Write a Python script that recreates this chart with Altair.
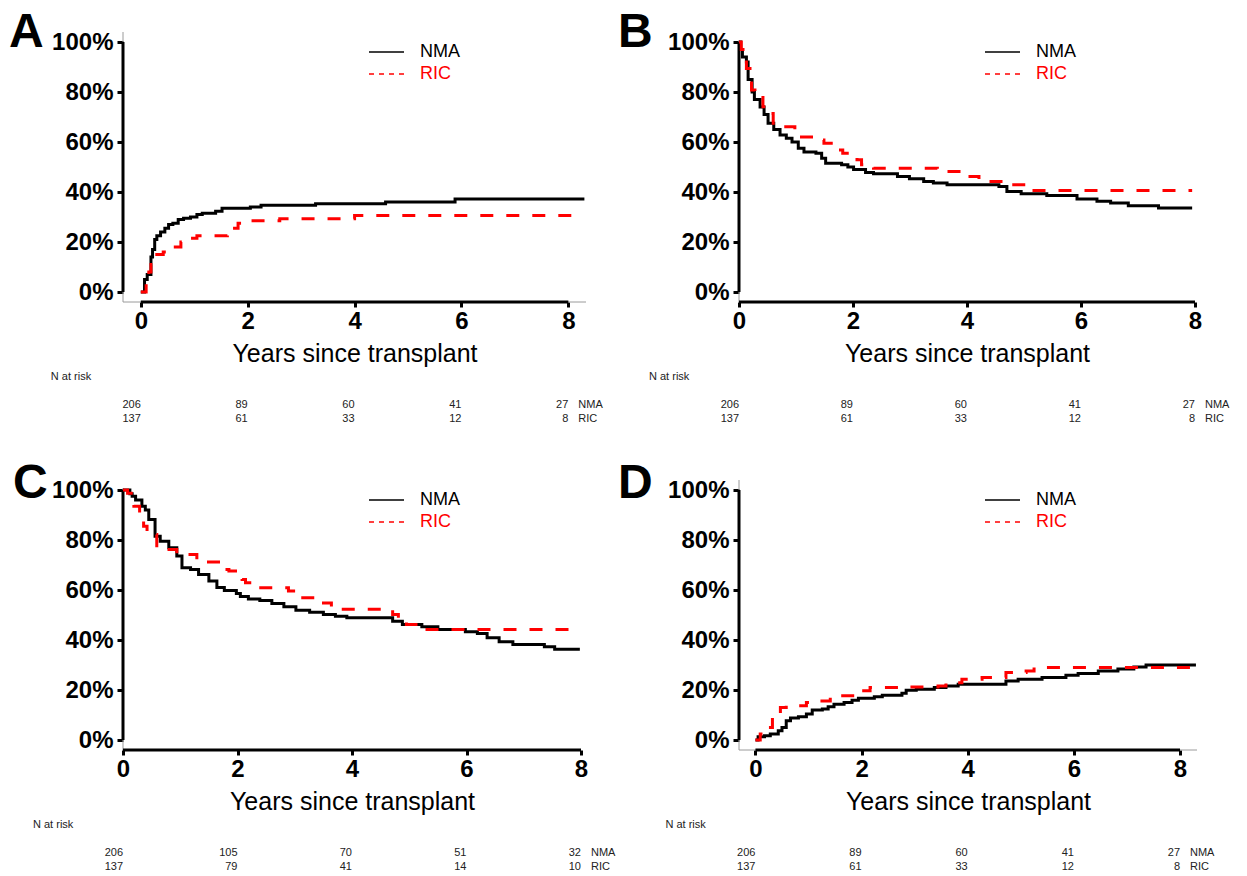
import altair as alt
import pandas as pd

FONT = "Liberation Sans"

# ---------------- data ----------------
# Panel A
a_nma_t = [0, 0.07, 0.12, 0.19, 0.22, 0.26, 0.30, 0.37, 0.45, 0.52, 0.60, 0.70, 0.80, 0.93, 1.05, 1.15, 1.40, 1.52, 2.05, 2.25, 3.27, 4.58, 5.88, 8.30]
a_nma_v = [0, 5, 7, 14, 17, 21, 22.5, 24, 25.5, 27, 27.5, 29, 29.5, 30, 31, 31.5, 32.3, 33.5, 34, 34.7, 35.3, 36, 37.2, 37.2]
a_ric_t = [0, 0.10, 0.15, 0.19, 0.26, 0.42, 0.50, 0.75, 0.86, 1.05, 1.62, 1.72, 1.82, 2.0, 2.6, 4.0, 8.2]
a_ric_v = [0, 4, 8, 11, 15, 16, 18, 20, 21.5, 22.5, 24, 25.5, 27.5, 28.5, 29.3, 30.6, 30.6]

# Panel B
b_nma_t = [0, 0.03, 0.06, 0.13, 0.16, 0.23, 0.27, 0.37, 0.44, 0.51, 0.61, 0.72, 0.83, 0.93, 1.04, 1.14, 1.35, 1.45, 1.52, 1.80, 1.91, 2.01, 2.22, 2.36, 2.78, 2.99, 3.24, 3.41, 3.65, 4.56, 4.70, 4.95, 5.40, 5.93, 6.28, 6.52, 6.83, 7.36, 7.95]
b_nma_v = [100, 97, 94, 92, 85, 80, 77, 74, 71, 67.5, 65, 62.8, 61.5, 60, 57.5, 56, 55.5, 53.5, 51.5, 50.9, 50, 49, 47.8, 47.3, 46.2, 45.3, 44.2, 43.6, 42.9, 42.2, 40.2, 39.3, 38.6, 37.2, 36.3, 35.6, 34.5, 33.6, 33.6]
b_ric_t = [0, 0.04, 0.10, 0.13, 0.22, 0.28, 0.42, 0.48, 0.60, 0.78, 0.98, 1.07, 1.39, 1.49, 1.74, 1.82, 2.07, 2.15, 2.36, 3.48, 3.86, 4.21, 4.67, 5.09, 7.95]
b_ric_v = [100, 97, 93.3, 89.4, 80.8, 78.8, 74.1, 71.4, 67.5, 66.1, 63.5, 62, 60.8, 59.5, 56.8, 55.5, 52.9, 50.9, 49.5, 48.2, 46.2, 44.2, 42.9, 40.6, 40.6]

# Panel C
c_nma_t = [0, 0.12, 0.16, 0.22, 0.33, 0.39, 0.45, 0.56, 0.65, 0.80, 0.94, 1.03, 1.18, 1.32, 1.50, 1.64, 1.77, 1.98, 2.05, 2.19, 2.39, 2.60, 2.81, 3.02, 3.26, 3.50, 3.71, 3.91, 4.71, 4.88, 5.22, 5.50, 5.98, 6.19, 6.36, 6.57, 6.81, 7.36, 7.54, 7.98]
c_nma_v = [100, 98.5, 97.5, 96, 93.5, 92, 88.2, 81.5, 79.5, 76.9, 73.6, 68.9, 68.2, 66.2, 63.6, 61, 59.8, 58.6, 57.4, 56.4, 55.8, 54.6, 53.3, 51.9, 51.1, 50.2, 49.5, 48.9, 47.5, 46.2, 45.3, 44.2, 43.3, 42.6, 40.9, 39.3, 38.2, 37.3, 36.3, 36.3]
c_ric_t = [0, 0.08, 0.19, 0.29, 0.36, 0.42, 0.59, 0.68, 0.94, 1.29, 1.73, 1.85, 2.08, 2.14, 2.37, 2.89, 2.98, 3.43, 3.64, 3.78, 4.71, 4.81, 4.95, 5.22, 7.98]
c_ric_v = [100, 98.7, 93.5, 89, 85.5, 82.2, 76.9, 76.2, 74.2, 71.2, 68.2, 67.6, 64.2, 62.9, 60.9, 59.6, 56.9, 54.8, 52.9, 52.3, 50.2, 47.5, 46.2, 44.2, 44.2]

# Panel D
d_nma_t = [0, 0.05, 0.17, 0.28, 0.43, 0.50, 0.58, 0.66, 0.81, 0.96, 1.07, 1.26, 1.37, 1.48, 1.67, 1.82, 1.94, 2.24, 2.39, 2.76, 2.84, 3.03, 3.37, 3.59, 3.82, 4.72, 4.95, 5.40, 5.85, 6.08, 6.46, 6.83, 7.13, 7.36, 8.30]
d_nma_v = [0, 1.3, 1.7, 2.4, 3.7, 5, 7.7, 8.8, 9.3, 10.4, 12, 12.4, 13.3, 14.3, 15, 15.9, 16.7, 17.3, 17.9, 18.7, 19.9, 20.3, 21, 21.6, 22.3, 23.6, 24.3, 25, 25.9, 26.6, 27.6, 28.4, 29.2, 30, 30]
d_ric_t = [0, 0.09, 0.20, 0.32, 0.47, 0.58, 0.96, 1.18, 1.41, 1.56, 1.94, 2.16, 2.92, 3.44, 3.59, 3.89, 4.27, 4.72, 5.10, 5.25, 8.30]
d_ric_v = [0, 2.4, 5, 9, 13, 13.7, 15, 15.6, 17, 17.7, 19.7, 21, 21.2, 21.6, 22.9, 24.3, 25, 27, 27.6, 29, 29]

# Numbers at risk
risk_times = [0, 2, 4, 6, 8]
risk_nma_abd = [206, 89, 60, 41, 27]
risk_ric_abd = [137, 61, 33, 12, 8]
risk_nma_c = [206, 105, 70, 51, 32]
risk_ric_c = [137, 79, 41, 14, 10]

groups = ["NMA", "RIC"]
x_ticks = [0, 2, 4, 6, 8]
y_ticks = [0, 0.2, 0.4, 0.6, 0.8, 1.0]
YMIN, YMAX = -0.04, 1.04


def panel(letter, nma_t, nma_v, ric_t, ric_v, r_nma, r_ric, xdom, width, frame_top, letter_x, letter_y):
    xs = alt.Scale(domain=xdom, nice=False, zero=False)
    ys = alt.Scale(domain=[YMIN, YMAX], nice=False, zero=False)
    xax = alt.Axis(values=x_ticks, format="d", title="Years since transplant", domain=False, grid=False,
                   tickSize=5, tickWidth=3, tickColor="black", labelFontSize=24, labelFontWeight="bold",
                   labelColor="black", labelPadding=2, labelFlush=False, labelOverlap=False,
                   titleFontSize=25, titleFontWeight="normal", titleColor="black", titlePadding=8)
    yax = alt.Axis(values=y_ticks, format=".0%", title=None, domain=False, grid=False,
                   tickSize=6, tickWidth=3, tickColor="black", labelFontSize=24, labelFontWeight="bold",
                   labelColor="black", labelPadding=4, labelFlush=False, labelOverlap=False)
    X = lambda: alt.X("t:Q", scale=xs, axis=xax)
    Y = lambda: alt.Y("v:Q", scale=ys, axis=yax)

    nma = pd.DataFrame({"t": nma_t, "v": [v / 100 for v in nma_v]})
    ric = pd.DataFrame({"t": ric_t, "v": [v / 100 for v in ric_v]})

    frame_h = pd.DataFrame({"t": [xdom[0]], "t2": [xdom[1]], "v": [YMIN]})
    frame_v = pd.DataFrame({"t": [xdom[0]], "v": [YMIN], "v2": [frame_top]})
    axis_h = pd.DataFrame({"t": [x_ticks[0]], "t2": [x_ticks[-1]], "v": [YMIN]})
    axis_v = pd.DataFrame({"t": [xdom[0]], "v": [y_ticks[0]], "v2": [y_ticks[-1]]})

    layers = []
    layers.append(alt.Chart(frame_h).mark_rule(color="#9a9a9a", strokeWidth=1).encode(x=X(), x2="t2:Q", y=Y()))
    layers.append(alt.Chart(frame_v).mark_rule(color="#9a9a9a", strokeWidth=1).encode(x=X(), y=Y(), y2="v2:Q"))
    layers.append(alt.Chart(axis_h).mark_rule(color="black", strokeWidth=3).encode(x=X(), x2="t2:Q", y=Y()))
    layers.append(alt.Chart(axis_v).mark_rule(color="black", strokeWidth=3).encode(x=X(), y=Y(), y2="v2:Q"))
    layers.append(alt.Chart(nma).mark_line(interpolate="step-after", color="black", strokeWidth=3)
                  .encode(x=X(), y=Y()))
    layers.append(alt.Chart(ric).mark_line(interpolate="step-after", color="#ff0000", strokeWidth=3,
                                           strokeDash=[13, 13]).encode(x=X(), y=Y()))

    # legend (drawn inside the plot, top right)
    leg = pd.DataFrame({"label": groups})
    layers.append(alt.Chart(leg.iloc[[0]]).mark_rule(color="black", strokeWidth=1.3)
                  .encode(x=alt.value(246), x2=alt.value(281), y=alt.value(20)))
    layers.append(alt.Chart(leg.iloc[[1]]).mark_rule(color="#ff0000", strokeWidth=1.3, strokeDash=[5, 5])
                  .encode(x=alt.value(246), x2=alt.value(281), y=alt.value(42)))
    layers.append(alt.Chart(leg.iloc[[0]]).mark_text(align="left", baseline="middle", fontSize=18, font=FONT,
                                                     color="black")
                  .encode(x=alt.value(297), y=alt.value(20), text="label:N"))
    layers.append(alt.Chart(leg.iloc[[1]]).mark_text(align="left", baseline="middle", fontSize=18, font=FONT,
                                                     color="#ff0000")
                  .encode(x=alt.value(297), y=alt.value(42), text="label:N"))

    # panel letter
    lt = pd.DataFrame({"label": [letter]})
    layers.append(alt.Chart(lt).mark_text(align="left", baseline="top", fontSize=48, fontWeight="bold",
                                          font=FONT, color="black")
                  .encode(x=alt.value(letter_x), y=alt.value(letter_y), text="label:N"))

    # number at risk table
    risk = pd.DataFrame({"t": risk_times, "nma": [str(n) for n in r_nma], "ric": [str(n) for n in r_ric]})
    tbl = dict(fontSize=11, font=FONT, color="#222222")
    layers.append(alt.Chart(pd.DataFrame({"t": [0], "label": ["N at risk"]}))
                  .mark_text(align="left", baseline="middle", dx=-90, **tbl)
                  .encode(x=X(), y=alt.value(345), text="label:N"))
    layers.append(alt.Chart(risk).mark_text(align="right", baseline="middle", **tbl)
                  .encode(x=X(), y=alt.value(373), text="nma:N"))
    layers.append(alt.Chart(risk).mark_text(align="right", baseline="middle", **tbl)
                  .encode(x=X(), y=alt.value(387), text="ric:N"))
    lab = pd.DataFrame({"t": [x_ticks[-1]], "label": ["NMA"]})
    lab2 = pd.DataFrame({"t": [x_ticks[-1]], "label": ["RIC"]})
    layers.append(alt.Chart(lab).mark_text(align="left", baseline="middle", dx=10, **tbl)
                  .encode(x=X(), y=alt.value(373), text="label:N"))
    layers.append(alt.Chart(lab2).mark_text(align="left", baseline="middle", dx=10, **tbl)
                  .encode(x=X(), y=alt.value(387), text="label:N"))

    return alt.layer(*layers).properties(width=width, height=270)


pA = panel("A", a_nma_t, a_nma_v, a_ric_t, a_ric_v, risk_nma_abd, risk_ric_abd, [-0.333, 8.33], 463, 1.04, -114, -23)
pB = panel("B", b_nma_t, b_nma_v, b_ric_t, b_ric_v, risk_nma_abd, risk_ric_abd, [0, 8], 456, 1.008, -121, -23)
pC = panel("C", c_nma_t, c_nma_v, c_ric_t, c_ric_v, risk_nma_c, risk_ric_c, [0, 8], 458, 1.008, -110, -20)
pD = panel("D", d_nma_t, d_nma_v, d_ric_t, d_ric_v, risk_nma_abd, risk_ric_abd, [-0.31, 8.32], 458, 1.04, -121, -20)

chart = alt.concat(pA, pB, pC, pD, columns=2, bounds="flush",
                   spacing=alt.RowColnumber(row=178, column=153)).properties(
    padding={"left": 0, "top": 0, "right": 0, "bottom": 0}
).configure_view(stroke="transparent").configure_axis(labelFont=FONT, titleFont=FONT).configure_text(font=FONT)

chart.save("out.html", embed_options={"renderer": "svg", "actions": False})
